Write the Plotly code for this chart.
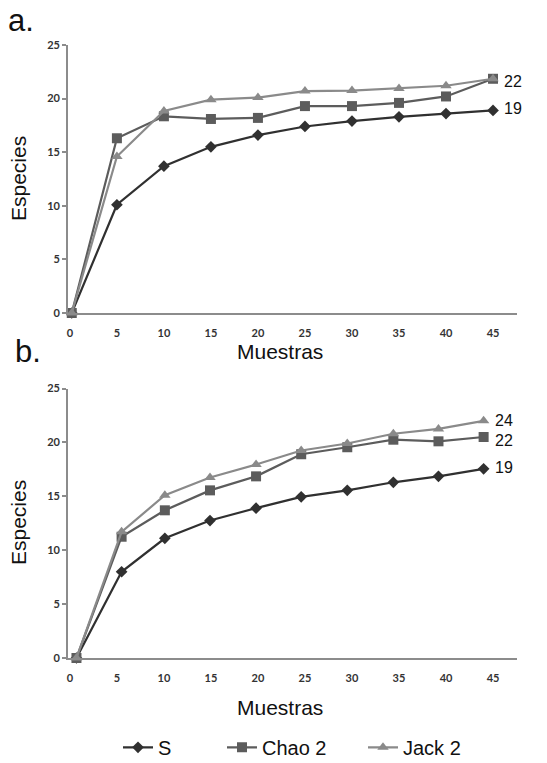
import plotly.graph_objects as go

# ---- data ----
x_a = [0.2, 5, 10, 15, 20, 25, 30, 35, 40, 45]
s_a = [0, 10.1, 13.7, 15.5, 16.6, 17.4, 17.9, 18.3, 18.6, 18.9]
chao_a = [0, 16.3, 18.35, 18.1, 18.2, 19.3, 19.3, 19.6, 20.2, 21.85]
jack_a = [0, 14.6, 18.85, 19.9, 20.1, 20.7, 20.75, 20.95, 21.2, 21.85]

x_b = [0.7, 5.5, 10.1, 14.9, 19.8, 24.6, 29.5, 34.4, 39.2, 44.0]
s_b = [0, 8.0, 11.1, 12.75, 13.9, 14.95, 15.55, 16.3, 16.85, 17.55]
chao_b = [0, 11.25, 13.7, 15.55, 16.85, 18.9, 19.55, 20.25, 20.1, 20.5]
jack_b = [0, 11.7, 15.1, 16.75, 17.95, 19.25, 19.9, 20.8, 21.25, 22.0]

series_names = ["S", "Chao 2", "Jack 2"]
end_labels_a = ["22", "19"]
end_labels_b = ["24", "22", "19"]
x_ticks = [0, 5, 10, 15, 20, 25, 30, 35, 40, 45]
y_ticks = [0, 5, 10, 15, 20, 25]

colors = ["#303030", "#5c5c5c", "#8a8a8a"]
symbols = ["diamond", "square", "triangle-up"]
msizes = [9, 10, 10]

W, H = 547, 763
fig = go.Figure()

def add_panel(xs, ys_list, xa, ya, legend_on):
    for i, ys in enumerate(ys_list):
        fig.add_trace(go.Scatter(
            x=xs, y=ys, mode="lines+markers", name=series_names[i],
            line=dict(color=colors[i], width=2.2),
            marker=dict(symbol=symbols[i], size=msizes[i], color=colors[i]),
            xaxis=xa, yaxis=ya, cliponaxis=False,
            showlegend=legend_on,
            legend=["legend", "legend2", "legend3"][i],
        ))

add_panel(x_a, [s_a, chao_a, jack_a], "x", "y", False)
add_panel(x_b, [s_b, chao_b, jack_b], "x2", "y2", True)

xdom = [68 / W, 517 / W]
ydom_a = [1 - 313 / H, 1 - 45 / H]
ydom_b = [1 - 658 / H, 1 - 388.5 / H]

tickfont = dict(family="Lato", size=11, color="#333333", weight="bold")
axline = dict(showline=True, linecolor="#8c8c8c", linewidth=1.8, showgrid=False,
              zeroline=False, tickfont=tickfont, automargin=False)

xcommon = dict(range=[-0.2, 47.55], tickvals=x_ticks, ticks="",
               ticklabelstandoff=9, **axline)
ycommon = dict(range=[0, 25], tickvals=y_ticks, ticks="outside", ticklen=4,
               tickcolor="#8c8c8c", tickwidth=1.5, **axline)

fig.update_layout(
    width=W, height=H, margin=dict(l=0, r=0, t=0, b=0, autoexpand=False),
    paper_bgcolor="white", plot_bgcolor="white",
    font=dict(family="Liberation Sans", color="#111111"),
    xaxis=dict(domain=xdom, anchor="y", **xcommon),
    yaxis=dict(domain=ydom_a, anchor="x", **ycommon),
    xaxis2=dict(domain=xdom, anchor="y2", **xcommon),
    yaxis2=dict(domain=ydom_b, anchor="x2", **ycommon),
)

legfont = dict(family="Liberation Sans", size=20, color="#111111")
leg_x = [118, 222, 363]
for i, key in enumerate(["legend", "legend2", "legend3"]):
    fig.layout[key] = dict(x=leg_x[i] / W, y=-0.005, xanchor="left", yanchor="bottom",
                           font=legfont, bgcolor="rgba(0,0,0,0)", orientation="h",
                           tracegroupgap=0)

ann = []
txt = dict(family="Liberation Sans", color="#111111")
# panel letters
ann.append(dict(text="a.", x=6 / W, y=1 - 20 / H, xref="paper", yref="paper",
                xanchor="left", yanchor="middle", showarrow=False, font=dict(size=31, **txt)))
ann.append(dict(text="b.", x=13 / W, y=1 - 352 / H, xref="paper", yref="paper",
                xanchor="left", yanchor="middle", showarrow=False, font=dict(size=31, **txt)))
# axis titles
for yc, xc_y in [(179, 352), (523, 707)]:
    ann.append(dict(text="Especies", x=18 / W, y=1 - yc / H, xref="paper", yref="paper",
                    textangle=-90, showarrow=False, xanchor="center", yanchor="middle",
                    font=dict(size=21, **txt)))
    ann.append(dict(text="Muestras", x=280 / W, y=1 - xc_y / H, xref="paper", yref="paper",
                    showarrow=False, xanchor="center", yanchor="middle",
                    font=dict(size=21, **txt)))
# end labels
for lab, yv in zip(end_labels_a, [21.55, 19.05]):
    ann.append(dict(text=lab, x=x_a[-1], y=yv, xref="x", yref="y", xanchor="left",
                    yanchor="middle", xshift=9, showarrow=False, font=dict(size=16, **txt)))
for lab, yv in zip(end_labels_b, [22.0, 20.2, 17.7]):
    ann.append(dict(text=lab, x=x_b[-1], y=yv, xref="x2", yref="y2", xanchor="left",
                    yanchor="middle", xshift=9, showarrow=False, font=dict(size=16, **txt)))
fig.update_layout(annotations=ann)

fig.write_html("out.html", config={"displayModeBar": False},
               post_script="document.body.style.margin='0';")
